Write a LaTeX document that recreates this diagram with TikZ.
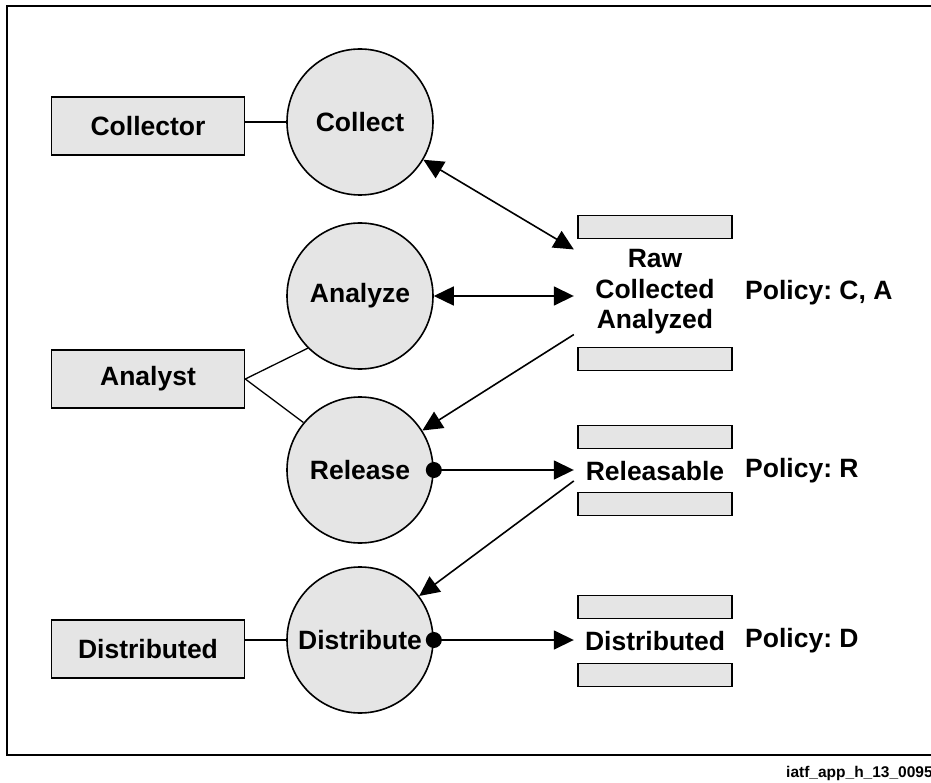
\documentclass[tikz,border=0pt]{standalone}
\usepackage{fontspec}
\setmainfont{Liberation Sans}
\usepackage{xcolor}
\usepackage{tikz}
\usetikzlibrary{arrows.meta,positioning}
\definecolor{boxgray}{RGB}{229,229,229}
\frenchspacing

\begin{document}
\begin{tikzpicture}[x=1pt, y=-1pt,
  labelfont/.style={font=\fontsize{26.5}{30.5}\selectfont\bfseries},
  role/.style={draw, line width=1.6pt, fill=boxgray, minimum width=193pt,
              minimum height=58pt, inner sep=0pt, labelfont},
  process/.style={draw, circle, line width=1.6pt, fill=boxgray,
              minimum size=146pt, inner sep=0pt, labelfont},
  bar/.style={draw, line width=1.6pt, fill=boxgray, minimum width=154pt,
              minimum height=23pt, inner sep=0pt},
  store/.style={align=center, inner xsep=4pt, inner ysep=0pt,
              minimum width=162pt, labelfont},
  policy/.style={anchor=west, inner sep=0pt, labelfont},
  dot/.style={circle, fill=black, minimum size=16pt, inner sep=0pt},
  arrow/.style={-{Triangle[length=20pt, width=19pt]}, line width=1.6pt},
  twoway/.style={{Triangle[length=20pt, width=19pt]}-{Triangle[length=20pt, width=19pt]},
              line width=1.6pt},
  link/.style={line width=1.3pt},
]
  \useasboundingbox (0,0) rectangle (931,783);

  % Frame and figure tag
  \draw[line width=1.6pt] (7,6) rectangle (945,755);
  \node[anchor=base west, inner sep=0pt,
        font=\fontsize{15.5}{18}\selectfont\bfseries] (tag) at (786,777)
        {iatf\_app\_h\_13\_0095};

  % Roles
  \node[role] (collector) at (148,126) {Collector};
  \node[role] (analyst) at (148,379) {Analyst};
  \node[role] (distributed) at (148,649) {Distributed};

  % Processes
  \node[process] (collect) at (360,122) {Collect};
  \node[process] (analyze) at (360,296) {Analyze};
  \node[process] (release) at (360,470) {Release};
  \node[process] (distribute) at (360,640) {Distribute};

  % Data stores
  \node[bar] (rawtop) at (655,227) {};
  \node[store] (raw) at (655,292) {Raw\\Collected\\Analyzed};
  \node[bar] (rawbot) at (655,359) {};
  \node[policy] (polca) at (745,293) {Policy: C, A};

  \node[bar] (reltop) at (655,437) {};
  \node[store] (rel) at (655,471) {Releasable};
  \node[bar] (relbot) at (655,504) {};
  \node[policy] (polr) at (745,471) {Policy: R};

  \node[bar] (distop) at (655,607) {};
  \node[store] (dis) at (655,641) {Distributed};
  \node[bar] (disbot) at (655,675) {};
  \node[policy] (pold) at (745,641) {Policy: D};

  % Roles to processes
  \draw[link] (collect.west -| collector.east) -- (collect.west);
  \draw[link] (analyst.east) -- (analyze.225);
  \draw[link] (analyst.east) -- (release.140);
  \draw[link] (distribute.west -| distributed.east) -- (distribute.west);

  % Flows between processes and stores
  \draw[twoway] (collect) -- (raw.north west);
  \draw[twoway] (analyze.east) -- (analyze.east -| raw.west);
  \draw[arrow] (raw.south west) -- (release);

  \node[dot] (reldot) at (release.east) {};
  \draw[arrow] (reldot.center) -- (reldot.center -| rel.west);
  \draw[arrow] (rel.south west) -- (distribute);

  \node[dot] (disdot) at (distribute.east) {};
  \draw[arrow] (disdot.center) -- (disdot.center -| dis.west);
\end{tikzpicture}
\end{document}
